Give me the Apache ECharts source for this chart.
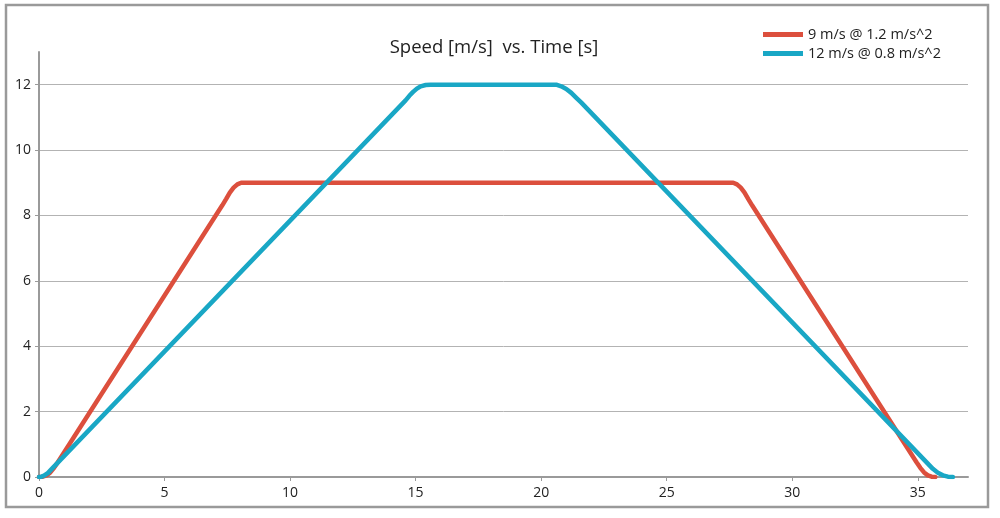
<!DOCTYPE html>
<html>
<head>
<meta charset="utf-8">
<script src="https://cdn.jsdelivr.net/npm/echarts@6/dist/echarts.min.js"></script>
<style>
html,body{margin:0;padding:0;background:#fff;}
#main{width:1000px;height:518px;}
</style>
</head>
<body>
<div id="main"></div>
<script>
const titleText = 'Speed [m/s]  vs. Time [s]';
const seriesNames = ['9 m/s @ 1.2 m/s^2', '12 m/s @ 0.8 m/s^2'];
const xTicks = [0, 5, 10, 15, 20, 25, 30, 35];
const yTicks = [0, 2, 4, 6, 8, 10, 12];
// [time s, speed m/s]
const speedA = [[0,0],[0.15,0.01],[0.3,0.05],[0.45,0.14],[0.6,0.28],[0.75,0.45],
  [7.3,8.31],[7.45,8.5],[7.6,8.7],[7.75,8.85],[7.9,8.95],[8.05,9],[8.2,9],
  [27.5,9],[27.65,9],[27.8,8.95],[27.95,8.85],[28.1,8.7],[28.25,8.5],[28.4,8.31],
  [34.95,0.45],[35.1,0.28],[35.25,0.14],[35.4,0.05],[35.55,0.01],[35.7,0]];
const speedB = [[0,0],[0.1,0.01],[0.2,0.04],[0.35,0.12],[0.5,0.24],
  [14.6,11.52],[14.75,11.66],[14.9,11.78],[15.05,11.88],[15.2,11.95],[15.4,11.99],[15.6,12],
  [20.6,12],[20.8,11.95],[21.0,11.87],[21.2,11.75],[21.4,11.6],[21.6,11.45],[21.8,11.29],
  [35.4,0.41],[35.6,0.25],[35.8,0.13],[36.0,0.05],[36.2,0.01],[36.4,0]];

const chart = echarts.init(document.getElementById('main'));
const font = "'Open Sans', sans-serif";
chart.setOption({
  animation: false,
  backgroundColor: '#fff',
  textStyle: {fontFamily: font},
  title: {
    text: titleText, left: 489, top: 33, textAlign: 'center',
    textStyle: {fontFamily: font, fontSize: 18.5, fontWeight: 'normal', color: '#222'}
  },
  legend: {
    orient: 'vertical', left: 758, top: 22, itemGap: 4,
    itemWidth: 40, itemHeight: 5, icon: 'rect',
    textStyle: {fontFamily: font, fontSize: 14.5, color: '#222'},
    data: seriesNames
  },
  graphic: [{
    type: 'rect', shape: {x: 6, y: 5, width: 982, height: 502},
    style: {fill: 'none', stroke: '#9a9a9a', lineWidth: 2.5}, silent: true
  }],
  grid: {left: 39, right: 32, top: 52, bottom: 41},
  xAxis: {
    type: 'value', min: 0, max: 37, interval: 5,
    axisLine: {lineStyle: {color: '#9a9a9a', width: 2}},
    axisTick: {show: true, length: 4, lineStyle: {color: '#9a9a9a'}},
    axisLabel: {fontFamily: font, fontSize: 14, color: '#222', margin: 9, showMaxLabel: false,
      formatter: v => xTicks.includes(v) ? String(v) : ''},
    splitLine: {show: false}
  },
  yAxis: {
    type: 'value', min: 0, max: 13, interval: 2,
    axisLine: {show: true, lineStyle: {color: '#9a9a9a', width: 2}},
    axisTick: {show: true, length: 4, lineStyle: {color: '#9a9a9a'}},
    axisLabel: {fontFamily: font, fontSize: 14, color: '#222', margin: 8, showMaxLabel: false,
      formatter: v => yTicks.includes(v) ? String(v) : ''},
    splitLine: {show: true, showMaxLine: false, lineStyle: {color: '#b3b3b3', width: 1}}
  },
  series: [
    {name: seriesNames[0], type: 'line', data: speedA, showSymbol: false, symbol: 'none',
     color: '#dc4f3d', lineStyle: {width: 4.5, color: '#dc4f3d', join: 'round', cap: 'round'}, z: 3},
    {name: seriesNames[1], type: 'line', data: speedB, showSymbol: false, symbol: 'none',
     color: '#19a7c5', lineStyle: {width: 4.5, color: '#19a7c5', join: 'round', cap: 'round'}, z: 4}
  ]
});
</script>
</body>
</html>
